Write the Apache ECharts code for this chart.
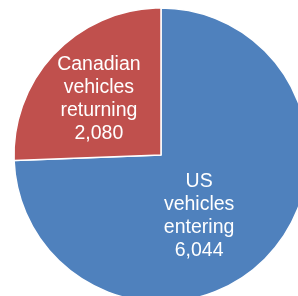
<!DOCTYPE html>
<html>
<head>
<meta charset="utf-8">
<script src="https://cdn.jsdelivr.net/npm/echarts@6/dist/echarts.min.js"></script>
<style>
  html, body { margin: 0; padding: 0; background: #fff; }
  #main { width: 298px; height: 296px; }
</style>
</head>
<body>
<div id="main"></div>
<script>
// data
var categories = ['US vehicles entering', 'Canadian vehicles returning'];
var values = [6044, 2080];
var colors = ['#4F81BD', '#C0504D'];
// nudges for the inside labels, in px
var labelShift = [[-17, 8], [-7, -3]];

var myChart = echarts.init(document.getElementById('main'));

var option = {
    animation: false,
    series: [{
        type: 'pie',
        center: [161, 155],
        radius: 147,
        startAngle: 90,
        clockwise: true,
        silent: true,
        itemStyle: {
            borderColor: '#fff',
            borderWidth: 1.5
        },
        label: {
            show: true,
            position: 'inside',
            color: '#fff',
            fontFamily: 'Liberation Sans, Arial, sans-serif',
            fontSize: 19.5,
            lineHeight: 23,
            align: 'center',
            formatter: function (p) {
                return p.name.split(' ').join('\n') + '\n' + p.value.toLocaleString('en-US');
            }
        },
        labelLayout: function (params) {
            var s = labelShift[params.dataIndex];
            return { dx: s[0], dy: s[1] };
        },
        data: categories.map(function (name, i) {
            return { name: name, value: values[i], itemStyle: { color: colors[i] } };
        })
    }]
};
myChart.setOption(option);
</script>
</body>
</html>
